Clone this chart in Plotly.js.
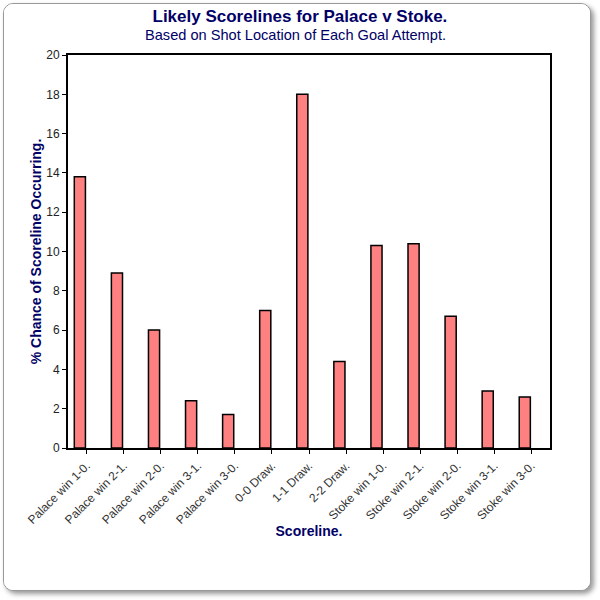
<!DOCTYPE html>
<html>
<head>
<meta charset="utf-8">
<script src="https://cdn.plot.ly/plotly-3.0.1.min.js"></script>
<style>
  body { margin: 0; background: #fff; }
  #graph {
    position: absolute; left: 3px; top: 3px;
    width: 586px; height: 586px;
    border: 1px solid #999; border-radius: 10px;
    box-shadow: 3px 3px 5px #999;
    overflow: hidden; background: #fff;
  }
</style>
</head>
<body>
<div id="graph"></div>
<script>
// categories along the x axis
const scorelines = ["Palace win 1-0.", "Palace win 2-1.", "Palace win 2-0.", "Palace win 3-1.", "Palace win 3-0.",
  "0-0 Draw.", "1-1 Draw.", "2-2 Draw.",
  "Stoke win 1-0.", "Stoke win 2-1.", "Stoke win 2-0.", "Stoke win 3-1.", "Stoke win 3-0."]

// % chance of each scoreline
const chance = [13.8, 8.9, 6.0, 2.4, 1.7, 7.0, 18.0, 4.4, 10.3, 10.4, 6.7, 2.9, 2.6]

const yTicks = [0, 2, 4, 6, 8, 10, 12, 14, 16, 18, 20]

const navy = "#000066"
const font = "Liberation Sans, Arial, sans-serif"

const trace = {
  type: "bar",
  x: scorelines,
  y: chance,
  width: 0.3,
  offset: -0.33,
  marker: {color: "#ff8080", line: {color: "#000", width: 1.5}},
  hoverinfo: "x+y"
}

const layout = {
  width: 586,
  height: 586,
  margin: {l: 64, r: 40, t: 51, b: 142},
  paper_bgcolor: "#fff",
  plot_bgcolor: "#fff",
  font: {family: font, size: 12, color: "#222"},
  showlegend: false,
  title: {
    text: "<b>Likely Scorelines for Palace v Stoke.</b>",
    font: {family: font, size: 17, color: navy},
    x: 0.505, xanchor: "center",
    y: 0.98, yref: "container", yanchor: "middle"
  },
  annotations: [{
    text: "Based on Shot Location of Each Goal Attempt.",
    font: {family: font, size: 14.6, color: navy},
    xref: "paper", yref: "paper",
    x: 0.4726, xanchor: "center",
    y: 1.051, yanchor: "middle",
    showarrow: false
  }],
  xaxis: {
    type: "category",
    tickangle: -45,
    ticks: "outside", ticklen: 4, tickcolor: "#000",
    showline: true, linecolor: "#000", linewidth: 2, mirror: true,
    showgrid: false,
    tickfont: {family: font, size: 12, color: "#333"},
    title: {text: "<b>Scoreline.</b>", font: {family: font, size: 14, color: navy}, standoff: 0}
  },
  yaxis: {
    range: [0, 20],
    tickvals: yTicks,
    ticks: "outside", ticklen: 4, tickcolor: "#000",
    showline: true, linecolor: "#000", linewidth: 2, mirror: true,
    showgrid: false, zeroline: false,
    tickfont: {family: font, size: 12, color: "#222"},
    title: {text: "<b>% Chance of Scoreline Occurring.</b>", font: {family: font, size: 14, color: navy}, standoff: 1}
  },
  bargap: 0
}

Plotly.newPlot("graph", [trace], layout, {displayModeBar: false, staticPlot: true})
</script>
</body>
</html>
